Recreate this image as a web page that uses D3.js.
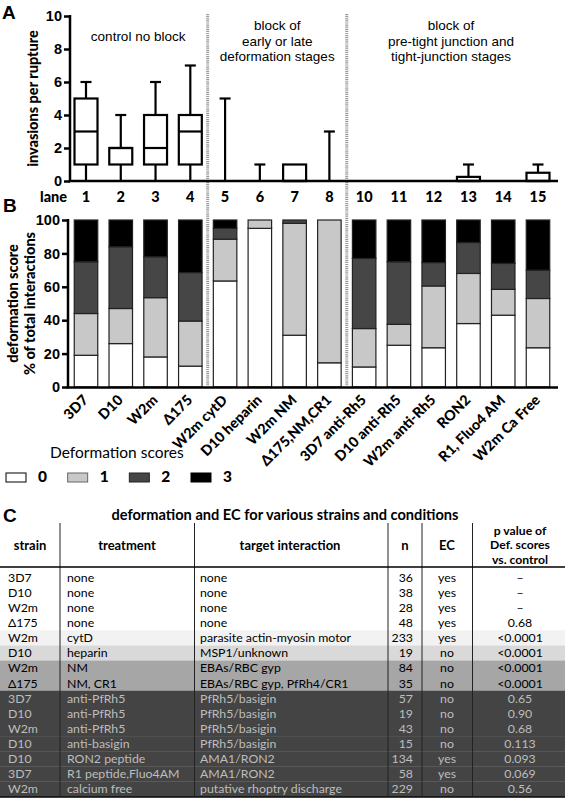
<!DOCTYPE html>
<html><head><meta charset="utf-8">
<script src="https://cdn.jsdelivr.net/npm/d3@7"></script>
<style>
body{margin:0;background:#fff;}
svg{display:block;}
</style></head>
<body>
<svg id="c" width="567" height="800"></svg>
<script>
// ---------- DATA ----------
const lanes = ["1","2","3","4","5","6","7","8","10","11","12","13","14","15"];
// Panel A box plot summaries (invasions per rupture)
const boxMin    = [0,0,0,0,0,0,0,0,0,0,0,0,0,0];
const boxQ1     = [1,1,1,1,0,0,0,0,0,0,0,0,0,0];
const boxMedian = [3,2,2,3,0,0,0,0,0,0,0,0,0,0];
const boxQ3     = [5,2,4,4,0,0,1,0,0,0,0,0.25,0,0.5];
const boxMax    = [6,4,6,7,5,1,1,3,0,0,0,1,0,1];
const yTicksA = [0,2,4,6,8,10];
const groupHeaders = [
  {lanes:["1","4"], lines:["control no block"]},
  {lanes:["5","8"], lines:["block of","early or late","deformation stages"]},
  {lanes:["10","15"], lines:["block of","pre-tight junction and","tight-junction stages"]}
];
const separators = [["4","5"],["8","10"]];

// Panel B stacked bars (% of total interactions by deformation score)
const conditions = ["3D7","D10","W2m","Δ175","W2m cytD","D10 heparin","W2m NM","Δ175,NM,CR1",
  "3D7 anti-Rh5","D10 anti-Rh5","W2m anti-Rh5","RON2","R1, Fluo4 AM","W2m Ca Free"];
const score0 = [19,26,18,12.5,63.5,95,31,14.5,12,25,23.5,38,43,23.5];
const score1 = [25,21,35.5,27,25,5,67,85.5,23,12.5,37,30,15.5,29.5];
const score2 = [31,37,24.5,29,6.5,0,2,0,42,37.5,14,18.5,15.5,17];
const score3 = [25,16,22,31.5,5,0,0,0,23,25,25.5,13.5,26,30];
const scoreKeys = ["0","1","2","3"];
const yTicksB = [0,20,40,60,80,100];

// Panel C table
const tableTitle = "deformation and EC for various strains and conditions";
const colHeaders = ["strain","treatment","target interaction","n","EC"];
const pHeader = ["p value of","Def. scores","vs. control"];
const strain = ["3D7","D10","W2m","Δ175","W2m","D10","W2m","Δ175","3D7","D10","W2m","D10","D10","3D7","W2m"];
const treatment = ["none","none","none","none","cytD","heparin","NM","NM, CR1","anti-PfRh5","anti-PfRh5","anti-PfRh5","anti-basigin","RON2 peptide","R1 peptide,Fluo4AM","calcium free"];
const target = ["none","none","none","none","parasite actin-myosin motor","MSP1/unknown","EBAs/RBC gyp","EBAs/RBC gyp, PfRh4/CR1","PfRh5/basigin","PfRh5/basigin","PfRh5/basigin","PfRh5/basigin","AMA1/RON2","AMA1/RON2","putative rhoptry discharge"];
const nVals = [36,38,28,48,233,19,84,35,57,19,43,15,134,58,229];
const ecVals = ["yes","yes","yes","yes","yes","no","no","no","no","no","no","no","yes","yes","no"];
const pVals = ["–","–","–","0.68","<0.0001","<0.0001","<0.0001","<0.0001","0.65","0.90","0.68","0.113","0.093","0.069","0.56"];
const rowGroup = [0,0,0,0,1,2,3,3,4,4,4,4,4,4,4];

// ---------- DRAW ----------
const svg = d3.select("#c");
const ARIAL = "'Liberation Sans', Arial, sans-serif";
const CAL = "Lato, 'Open Sans', sans-serif";

const x = d3.scalePoint().domain(lanes).range([86, 538]);
const yA = d3.scaleLinear().domain([0,10]).range([181, 16]);
const yB = d3.scaleLinear().domain([0,100]).range([387, 220]);

// separators (dotted)
separators.forEach(([a,b]) => {
  const sx = (x(a)+x(b))/2;
  svg.append("line").attr("x1",sx).attr("x2",sx).attr("y1",14).attr("y2",386)
    .attr("stroke","#9a9a9a").attr("stroke-width",3).attr("stroke-dasharray","1.2,0.9");
});

// Panel labels
svg.append("text").attr("x",2).attr("y",19).text("A").attr("font-family",ARIAL).attr("font-weight","bold").attr("font-size",19);
svg.append("text").attr("x",3).attr("y",212).text("B").attr("font-family",ARIAL).attr("font-weight","bold").attr("font-size",19);
svg.append("text").attr("x",3).attr("y",522).text("C").attr("font-family",ARIAL).attr("font-weight","bold").attr("font-size",19);

// ---- Panel A ----
const gA = svg.append("g");
const axA = gA.append("g").attr("transform","translate(70,0)")
  .call(d3.axisLeft(yA).tickValues(yTicksA).tickSize(6).tickPadding(2).tickSizeOuter(0));
axA.select(".domain").attr("stroke-width",2.5).attr("d",`M0,${yA(10)-1}V${yA(0)+1}`);
axA.selectAll(".tick line").attr("stroke-width",2.5);
axA.selectAll("text").attr("font-family",ARIAL).attr("font-weight","bold").attr("font-size",14.5).attr("fill","#000");
gA.append("line").attr("x1",68.8).attr("x2",558).attr("y1",yA(0)).attr("y2",yA(0)).attr("stroke","#000").attr("stroke-width",2.5);

gA.append("text").attr("transform",`translate(38,${(yA(10)+yA(0))/2}) rotate(-90)`)
  .attr("text-anchor","middle").attr("font-family",CAL).attr("font-weight","900").attr("font-size",14.5)
  .text("invasions per rupture");

const bw = 23, cw = 11;
lanes.forEach((l,i) => {
  const cx = x(l);
  const g = gA.append("g").attr("stroke","#000").attr("stroke-width",2.2).attr("fill","none");
  if (boxMax[i] > boxQ3[i]) {
    g.append("line").attr("x1",cx).attr("x2",cx).attr("y1",yA(boxQ3[i])).attr("y2",yA(boxMax[i]));
    g.append("line").attr("x1",cx-cw/2).attr("x2",cx+cw/2).attr("y1",yA(boxMax[i])).attr("y2",yA(boxMax[i]));
  }
  if (boxMin[i] < boxQ1[i]) {
    g.append("line").attr("x1",cx).attr("x2",cx).attr("y1",yA(boxQ1[i])).attr("y2",yA(boxMin[i]));
  }
  if (boxQ3[i] > boxQ1[i]) {
    g.append("rect").attr("x",cx-bw/2).attr("width",bw).attr("y",yA(boxQ3[i])).attr("height",yA(boxQ1[i])-yA(boxQ3[i]));
    g.append("line").attr("x1",cx-bw/2).attr("x2",cx+bw/2).attr("y1",yA(boxMedian[i])).attr("y2",yA(boxMedian[i]));
  }
});

// group headers
groupHeaders.forEach(h => {
  const cx = (x(h.lanes[0]) + x(h.lanes[1]))/2;
  const n = h.lines.length;
  h.lines.forEach((t,k) => {
    gA.append("text").attr("x", cx).attr("y", n===1 ? 41 : 30 + k*15.5)
      .attr("text-anchor","middle").attr("font-family",ARIAL).attr("font-size",13.5).text(t);
  });
});

// lane labels
svg.append("text").attr("x",40).attr("y",202).text("lane").attr("font-family",CAL).attr("font-weight","900").attr("font-size",14.5);
lanes.forEach(l => {
  svg.append("text").attr("x",x(l)).attr("y",202).attr("text-anchor","middle").text(l)
    .attr("font-family",CAL).attr("font-weight","900").attr("font-size",14.5);
});

// ---- Panel B ----
const gB = svg.append("g");
const rows = conditions.map((c,i) => ({lane:lanes[i], "0":score0[i], "1":score1[i], "2":score2[i], "3":score3[i]}));
const stack = d3.stack().keys(scoreKeys)(rows);
const fillB = d3.scaleOrdinal().domain(scoreKeys).range(["#ffffff","#c8c8c8","#464646","#000000"]);
const barW = 23.5;
stack.forEach(layer => {
  gB.append("g").selectAll("rect").data(layer.filter(d => d[1]-d[0] > 0)).join("rect")
    .attr("x", d => x(d.data.lane)-barW/2).attr("width", barW)
    .attr("y", d => yB(d[1])).attr("height", d => yB(d[0])-yB(d[1]))
    .attr("fill", fillB(layer.key)).attr("stroke","#222").attr("stroke-width",1.2);
});
const axB = gB.append("g").attr("transform","translate(68,0)")
  .call(d3.axisLeft(yB).tickValues(yTicksB).tickSize(6).tickPadding(2).tickSizeOuter(0));
axB.select(".domain").attr("stroke-width",2.5).attr("d",`M0,${yB(100)-1}V${yB(0)+1}`);
axB.selectAll(".tick line").attr("stroke-width",2.5);
axB.selectAll("text").attr("font-family",ARIAL).attr("font-weight","bold").attr("font-size",14.5).attr("fill","#000");
gB.append("line").attr("x1",66.8).attr("x2",558).attr("y1",yB(0)+0.5).attr("y2",yB(0)+0.5).attr("stroke","#000").attr("stroke-width",2.5);

const yLab = gB.append("text").attr("transform",`translate(0,${(yB(0)+yB(100))/2}) rotate(-90)`)
  .attr("text-anchor","middle").attr("font-family",CAL).attr("font-weight","900").attr("font-size",14.5);
yLab.append("tspan").attr("x",0).attr("y",18).text("deformation score");
yLab.append("tspan").attr("x",0).attr("y",35).text("% of total interactions");

conditions.forEach((c,i) => {
  gB.append("text").attr("transform",`translate(${x(lanes[i])+3},401) rotate(-45)`)
    .attr("text-anchor","end").attr("font-family",CAL).attr("font-weight","900").attr("font-size",14.3).text(c);
});

// legend
svg.append("text").attr("x",50).attr("y",458).text("Deformation scores").attr("font-family",CAL).attr("font-size",15.5);
const legX = d3.scalePoint().domain(scoreKeys).range([6,191]);
const legStroke = d3.scaleOrdinal().domain(scoreKeys).range(["#000","#666","#222","#000"]);
scoreKeys.forEach(k => {
  svg.append("rect").attr("x",legX(k)).attr("y",473).attr("width",20).attr("height",9)
    .attr("fill",fillB(k)).attr("stroke",legStroke(k)).attr("stroke-width",1);
  svg.append("text").attr("x",legX(k)+32).attr("y",482).text(k)
    .attr("font-family",CAL).attr("font-weight","900").attr("font-size",15.5);
});

// ---- Panel C ----
const gC = svg.append("g");
gC.append("text").attr("x",285).attr("y",520).attr("text-anchor","middle").text(tableTitle)
  .attr("font-family",CAL).attr("font-weight","bold").attr("font-size",14.6);

const rowY = d3.scaleBand().domain(d3.range(strain.length)).range([570, 796.5]);
const rowFill = d3.scaleOrdinal().domain([0,1,2,3,4]).range(["#ffffff","#f2f2f2","#d9d9d9","#a6a6a6","#444444"]);
const rowText = d3.scaleOrdinal().domain([0,1,2,3,4]).range(["#000","#000","#000","#000","#bdbdbd"]);

gC.selectAll("rect.row").data(strain).join("rect").attr("class","row")
  .attr("x",0).attr("width",565).attr("y",(d,i)=>rowY(i)).attr("height",rowY.bandwidth()+0.3)
  .attr("fill",(d,i)=>rowFill(rowGroup[i]));

const colLines = [60,194.5,388,422,472.5];
colLines.forEach(cx => {
  gC.append("line").attr("x1",cx).attr("x2",cx).attr("y1",523).attr("y2",796)
    .attr("stroke","#222").attr("stroke-width",1);
});
gC.append("line").attr("x1",0).attr("x2",565).attr("y1",567).attr("y2",567).attr("stroke","#000").attr("stroke-width",1.3);
gC.append("line").attr("x1",0).attr("x2",565).attr("y1",797).attr("y2",797).attr("stroke","#000").attr("stroke-width",1.3);

// headers
const hdrX = [30,127,290,405,447];
colHeaders.forEach((h,i) => {
  gC.append("text").attr("x",hdrX[i]).attr("y",550).attr("text-anchor","middle").text(h)
    .attr("font-family",CAL).attr("font-weight","bold").attr("font-size",13);
});
pHeader.forEach((h,k) => {
  gC.append("text").attr("x",520).attr("y",534.5+k*14.6).attr("text-anchor","middle").text(h)
    .attr("font-family",CAL).attr("font-weight","bold").attr("font-size",12.2);
});

// body
const cols = [
  {vals:strain, x:8, anchor:"start"},
  {vals:treatment, x:67, anchor:"start"},
  {vals:target, x:200, anchor:"start"},
  {vals:nVals, x:413, anchor:"end"},
  {vals:ecVals, x:447, anchor:"middle"},
  {vals:pVals, x:520, anchor:"middle"}
];
cols.forEach(col => {
  gC.append("g").selectAll("text").data(col.vals).join("text")
    .attr("x",col.x).attr("y",(d,i)=>rowY(i)+rowY.bandwidth()/2+4.3)
    .attr("text-anchor",col.anchor).attr("font-family",CAL).attr("font-size",12.3)
    .attr("fill",(d,i)=>rowText(rowGroup[i])).text(d=>d);
});
</script>
</body></html>
